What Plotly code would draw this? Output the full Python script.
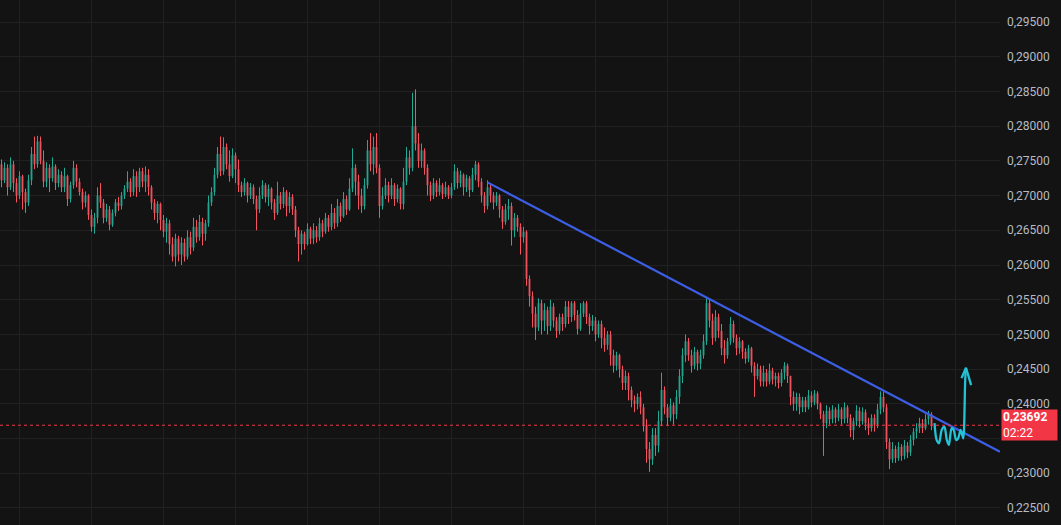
import plotly.graph_objects as go

# ---------------- data (prices in units of 0.0001) ----------------
first_open_e4 = 2745
close_e4 = [
    2722, 2740, 2712, 2745, 2718, 2700, 2728, 2705, 2690, 2722,
    2760, 2745, 2778, 2750, 2720, 2740, 2725, 2742, 2718, 2730,
    2712, 2728, 2695, 2715, 2740, 2720, 2705, 2690, 2700, 2672,
    2655, 2668, 2700, 2690, 2668, 2680, 2658, 2675, 2690, 2685,
    2700, 2710, 2720, 2705, 2728, 2712, 2735, 2720, 2730, 2712,
    2690, 2675, 2688, 2665, 2648, 2660, 2630, 2612, 2638, 2615,
    2632, 2612, 2640, 2625, 2655, 2640, 2662, 2645, 2660, 2690,
    2705, 2730, 2760, 2735, 2770, 2745, 2728, 2758, 2738, 2715,
    2705, 2718, 2700, 2712, 2695, 2680, 2700, 2715, 2698, 2710,
    2690, 2675, 2700, 2688, 2705, 2685, 2698, 2680, 2650, 2630,
    2645, 2630, 2652, 2638, 2650, 2640, 2660, 2648, 2668, 2655,
    2675, 2660, 2685, 2670, 2695, 2680, 2710, 2740, 2720, 2700,
    2685, 2715, 2765, 2745, 2770, 2740, 2685, 2700, 2715, 2700,
    2715, 2695, 2710, 2688, 2720, 2755, 2740, 2800, 2775, 2750,
    2765, 2740, 2715, 2700, 2718, 2705, 2715, 2702, 2712, 2700,
    2712, 2735, 2718, 2730, 2712, 2725, 2708, 2730, 2745, 2720,
    2700, 2685, 2712, 2700, 2690, 2700, 2680, 2662, 2680, 2685,
    2650, 2668, 2655, 2640, 2648, 2580, 2555, 2530, 2510, 2545,
    2520, 2535, 2512, 2540, 2520, 2505, 2525, 2515, 2540, 2525,
    2545, 2528, 2508, 2530, 2545, 2525, 2512, 2520, 2500, 2515,
    2495, 2485, 2500, 2470, 2455, 2470, 2450, 2430, 2440, 2420,
    2405, 2400, 2410, 2395, 2370, 2335, 2320, 2355, 2340, 2375,
    2420, 2395, 2380, 2398, 2385, 2410, 2440, 2470, 2490, 2470,
    2455, 2475, 2458, 2470, 2490, 2545, 2520, 2495, 2525, 2505,
    2480, 2470, 2490, 2515, 2495, 2480, 2490, 2475, 2465, 2480,
    2455, 2440, 2450, 2432, 2445, 2432, 2448, 2435, 2440, 2430,
    2445, 2455, 2440, 2410, 2400, 2410, 2395, 2405, 2395, 2412,
    2402, 2415, 2400, 2385, 2372, 2390, 2378, 2392, 2380, 2392,
    2378, 2395, 2380, 2362, 2375, 2390, 2375, 2388, 2372, 2365,
    2380, 2370, 2392, 2410, 2395, 2345, 2320, 2335, 2322, 2338,
    2325, 2340, 2330, 2348, 2360, 2365, 2372, 2365, 2378, 2385, 2369.2,
]
high_e4 = [
    2752, 2748, 2745, 2755, 2750, 2725, 2735, 2730, 2710, 2730,
    2770, 2785, 2786, 2785, 2765, 2748, 2745, 2755, 2745, 2738,
    2735, 2740, 2730, 2720, 2750, 2745, 2725, 2710, 2706, 2702,
    2680, 2675, 2712, 2718, 2695, 2688, 2685, 2680, 2695, 2698,
    2705, 2715, 2735, 2725, 2738, 2735, 2740, 2740, 2742, 2738,
    2715, 2695, 2692, 2690, 2672, 2668, 2665, 2640, 2645, 2642,
    2640, 2638, 2650, 2648, 2668, 2665, 2672, 2668, 2665, 2700,
    2712, 2740, 2770, 2785, 2784, 2775, 2765, 2768, 2762, 2752,
    2720, 2725, 2720, 2718, 2716, 2700, 2712, 2722, 2718, 2716,
    2712, 2695, 2720, 2705, 2712, 2708, 2705, 2702, 2685, 2655,
    2650, 2648, 2660, 2655, 2660, 2656, 2668, 2665, 2675, 2672,
    2688, 2682, 2695, 2690, 2705, 2700, 2725, 2768, 2745, 2730,
    2710, 2725, 2780, 2790, 2785, 2790, 2745, 2712, 2725, 2720,
    2725, 2718, 2716, 2712, 2740, 2770, 2765, 2848, 2853, 2790,
    2775, 2768, 2745, 2720, 2725, 2722, 2725, 2718, 2720, 2715,
    2718, 2745, 2740, 2736, 2732, 2730, 2728, 2740, 2750, 2748,
    2725, 2705, 2722, 2716, 2705, 2705, 2702, 2685, 2688, 2695,
    2690, 2675, 2672, 2660, 2655, 2650, 2585, 2562, 2540, 2552,
    2550, 2545, 2540, 2550, 2545, 2525, 2530, 2530, 2548, 2548,
    2548, 2548, 2535, 2545, 2548, 2548, 2530, 2528, 2525, 2520,
    2520, 2510, 2505, 2505, 2478, 2475, 2472, 2455, 2448, 2445,
    2425, 2412, 2415, 2418, 2400, 2378, 2345, 2365, 2365, 2390,
    2445, 2425, 2400, 2408, 2402, 2420, 2450, 2480, 2500, 2495,
    2478, 2482, 2478, 2478, 2500, 2553, 2552, 2530, 2535, 2530,
    2515, 2492, 2495, 2525, 2520, 2500, 2496, 2492, 2480, 2485,
    2482, 2460, 2458, 2455, 2455, 2450, 2458, 2452, 2445, 2445,
    2450, 2460, 2458, 2440, 2418, 2416, 2415, 2410, 2410, 2420,
    2418, 2420, 2418, 2402, 2390, 2398, 2395, 2398, 2395, 2400,
    2395, 2402, 2398, 2385, 2380, 2398, 2395, 2395, 2392, 2380,
    2385, 2385, 2400, 2418, 2418, 2400, 2350, 2345, 2340, 2345,
    2342, 2348, 2345, 2355, 2365, 2372, 2380, 2378, 2385, 2390, 2388,
]
low_e4 = [
    2712, 2718, 2700, 2708, 2705, 2690, 2695, 2680, 2675, 2685,
    2715, 2738, 2740, 2745, 2712, 2712, 2705, 2720, 2708, 2712,
    2705, 2705, 2685, 2690, 2710, 2712, 2700, 2680, 2683, 2665,
    2648, 2645, 2660, 2682, 2660, 2662, 2650, 2655, 2670, 2678,
    2680, 2695, 2705, 2698, 2700, 2698, 2705, 2712, 2705, 2700,
    2680, 2665, 2660, 2650, 2640, 2632, 2615, 2605, 2598, 2605,
    2600, 2605, 2608, 2615, 2620, 2632, 2635, 2628, 2635, 2655,
    2685, 2700, 2725, 2728, 2730, 2738, 2720, 2725, 2718, 2705,
    2698, 2700, 2690, 2695, 2688, 2650, 2675, 2695, 2690, 2685,
    2680, 2665, 2672, 2680, 2682, 2670, 2675, 2672, 2640, 2605,
    2615, 2622, 2628, 2630, 2630, 2632, 2635, 2640, 2645, 2648,
    2650, 2652, 2655, 2662, 2668, 2672, 2678, 2705, 2700, 2680,
    2675, 2680, 2710, 2735, 2730, 2732, 2668, 2680, 2695, 2690,
    2695, 2685, 2690, 2680, 2680, 2715, 2730, 2735, 2765, 2740,
    2740, 2730, 2700, 2692, 2695, 2698, 2700, 2695, 2698, 2695,
    2696, 2708, 2710, 2712, 2700, 2705, 2698, 2705, 2722, 2712,
    2690, 2675, 2680, 2690, 2680, 2685, 2668, 2652, 2658, 2665,
    2628, 2640, 2648, 2615, 2632, 2570, 2540, 2510, 2492, 2505,
    2500, 2505, 2500, 2505, 2510, 2495, 2500, 2505, 2510, 2515,
    2518, 2520, 2500, 2505, 2525, 2515, 2500, 2505, 2490, 2495,
    2480, 2475, 2478, 2455, 2445, 2448, 2438, 2420, 2420, 2405,
    2395, 2388, 2392, 2385, 2360, 2315, 2302, 2312, 2325, 2330,
    2368, 2385, 2368, 2375, 2370, 2378, 2400, 2430, 2460, 2462,
    2445, 2450, 2448, 2450, 2465, 2485, 2510, 2485, 2490, 2495,
    2470, 2458, 2465, 2485, 2488, 2470, 2472, 2465, 2458, 2460,
    2445, 2410, 2435, 2425, 2425, 2425, 2428, 2428, 2425, 2422,
    2425, 2435, 2430, 2398, 2390, 2390, 2385, 2388, 2388, 2392,
    2395, 2398, 2392, 2378, 2325, 2365, 2370, 2372, 2372, 2375,
    2370, 2372, 2372, 2352, 2348, 2368, 2366, 2370, 2362, 2355,
    2360, 2360, 2365, 2385, 2388, 2335, 2306, 2315, 2315, 2318,
    2318, 2320, 2322, 2325, 2340, 2350, 2358, 2358, 2362, 2370, 2362,
]

y_tick_values = [0.225, 0.230, 0.235, 0.240, 0.245, 0.250, 0.255, 0.260,
                 0.265, 0.270, 0.275, 0.280, 0.285, 0.290, 0.295]
# 0,23500 is hidden behind the live-price badge in the reference
y_tick_labels = ["0,22500", "0,23000", "", "0,24000", "0,24500",
                 "0,25000", "0,25500", "0,26000", "0,26500", "0,27000",
                 "0,27500", "0,28000", "0,28500", "0,29000", "0,29500"]
x_grid_values = [6, 30, 54, 78, 102, 126, 150, 174, 198, 222, 246, 270, 294, 318]

last_price = 0.23692
last_price_label = "0,23692"
countdown_label = "02:22"

# drawn trend line (bar index, price)
trend_x = [162, 332.8]
trend_y = [0.2719, 0.2331]

# hand-drawn cyan projection (bar index, price)
sketch_x = [311.0, 311.7, 312.5, 313.4, 314.3, 315.1, 315.8, 316.7, 317.4,
            318.2, 318.9, 319.7, 320.6, 320.9, 321.2, 321.4]
sketch_y = [0.23722, 0.2348, 0.23432, 0.23624, 0.23671, 0.2348, 0.23408,
            0.23648, 0.23624, 0.2348, 0.23504, 0.23624, 0.23504, 0.23722,
            0.2430, 0.24488]
arrow_x = [320.0, 321.5, 323.2]
arrow_y = [0.24370, 0.2452, 0.2427]

# ---------------- build ----------------
SCALE = 1e-4
closes = [c * SCALE for c in close_e4]
opens = [first_open_e4 * SCALE] + closes[:-1]
highs = [max(h * SCALE, o, c) for h, o, c in zip(high_e4, opens, closes)]
lows = [min(l * SCALE, o, c) for l, o, c in zip(low_e4, opens, closes)]
idx = list(range(len(closes)))

GREEN = "#22AB94"
RED = "#F7525F"
BG = "#131313"
GRID = "#212121"

fig = go.Figure()
fig.add_trace(go.Candlestick(
    x=idx, open=opens, high=highs, low=lows, close=closes,
    increasing=dict(line=dict(color=GREEN, width=1), fillcolor=GREEN),
    decreasing=dict(line=dict(color=RED, width=1), fillcolor=RED),
    whiskerwidth=0, showlegend=False, hoverinfo="skip",
))
fig.add_trace(go.Scatter(
    x=trend_x, y=trend_y, mode="lines",
    line=dict(color="#3D5EE6", width=2.2), showlegend=False, hoverinfo="skip",
))
fig.add_trace(go.Scatter(
    x=sketch_x, y=sketch_y, mode="lines",
    line=dict(color="#22C3D6", width=2.3, shape="spline", smoothing=0.8),
    showlegend=False, hoverinfo="skip",
))
fig.add_trace(go.Scatter(
    x=arrow_x, y=arrow_y, mode="lines",
    line=dict(color="#22C3D6", width=2.3), showlegend=False, hoverinfo="skip",
))

fig.add_shape(type="line", xref="paper", x0=0, x1=1, yref="y",
              y0=last_price, y1=last_price,
              line=dict(color="#F23645", width=1, dash="dot"))

fig.add_annotation(
    xref="paper", x=1.0, xanchor="left", xshift=1,
    yref="y", y=last_price, yanchor="middle",
    text=f"<b>{last_price_label}</b><br>{countdown_label}",
    showarrow=False, align="left",
    bgcolor="#F23645", width=53, height=28, borderpad=1,
    font=dict(color="#FFFFFF", size=12, family="Roboto, Arial, sans-serif"),
)

fig.update_layout(
    width=1061, height=525,
    margin=dict(l=0, r=61, t=0, b=0),
    paper_bgcolor=BG, plot_bgcolor=BG,
    boxgap=0.62,
    xaxis=dict(
        range=[-0.5, 332.83], rangeslider=dict(visible=False),
        tickvals=x_grid_values, showticklabels=False, showgrid=True,
        gridcolor=GRID, gridwidth=1, zeroline=False, showline=False,
        fixedrange=True,
    ),
    yaxis=dict(
        side="right", range=[0.22255, 0.29817],
        tickvals=y_tick_values, ticktext=y_tick_labels,
        showgrid=True, gridcolor=GRID, gridwidth=1, zeroline=False,
        showline=False, ticks="", ticklabelstandoff=6,
        tickfont=dict(color="#B8BBC2", size=12, family="Roboto, Arial, sans-serif"),
    ),
    font=dict(family="Roboto, Arial, sans-serif"),
)

fig.write_html(
    "out.html",
    config={"displayModeBar": False},
    post_script="document.body.style.margin='0';document.body.style.background='#131313';",
)
